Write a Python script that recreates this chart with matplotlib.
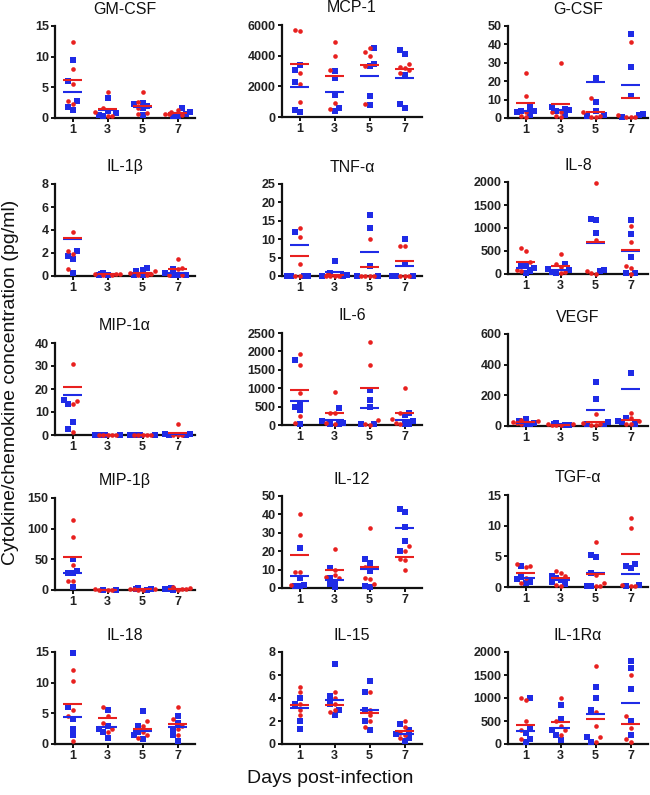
import matplotlib
matplotlib.use('Agg')
import matplotlib.pyplot as plt

days = [1, 3, 5, 7]
red = '#e8201f'
blue = '#1f2be6'

# --- data: points per day (red group / blue group) and the drawn mean lines ---
gmcsf_red = [[12.4, 8.0, 5.5, 2.7, 2.3], [4.3, 1.6, 0.9, 0.4, 0.3], [4.2, 2.6, 1.7, 0.8, 0.7], [1.3, 1.0, 0.7, 0.5, 0.6]]
gmcsf_blue = [[9.5, 6.1, 2.8, 1.8, 1.3], [3.2, 1.2, 0.8, 0.5, 0.3], [2.5, 2.3, 2.0, 1.6, 0.5], [1.6, 0.9, 0.6, 0.4, 0.3]]
gmcsf_red_mean = [6.2, 1.5, 2.0, 0.8]
gmcsf_blue_mean = [4.3, 1.3, 1.8, 0.8]

mcp1_red = [[5700, 5620, 2890, 2160, 970], [4860, 3950, 3070, 930, 520], [4490, 4250, 3950, 3350, 860], [3460, 3250, 3200, 2850, 3050]]
mcp1_blue = [[3370, 3090, 2310, 475, 300], [3020, 2550, 1450, 600, 370], [4530, 3480, 3300, 1360, 780], [4400, 4100, 2760, 820, 560]]
mcp1_red_mean = [3450, 2650, 3400, 3150]
mcp1_blue_mean = [1950, 1620, 2700, 2520]

gcsf_red = [[24.5, 11.7, 3.5, 1.0, 0.5], [30.0, 3.5, 3.0, 1.0, 0.5], [11.0, 3.0, 1.0, 0.5, 0.5], [41.2, 1.8, 0.5, 0.3, 0.3]]
gcsf_blue = [[6.0, 4.0, 3.7, 3.5, 1.5], [5.8, 5.0, 4.5, 4.0, 1.8], [21.9, 8.5, 4.0, 1.4, 1.2], [45.7, 27.5, 11.9, 2.3, 1.6, 0.5]]
gcsf_red_mean = [8.3, 7.4, 3.2, 10.8]
gcsf_blue_mean = [3.8, 4.3, 19.3, 17.8]

il1b_red = [[3.8, 2.2, 1.9, 0.6], [0.2, 0.15, 0.1, 0.1, 0.2], [0.4, 0.3, 0.2, 0.1, 0.1], [1.45, 0.7, 0.6, 0.1, 0.1]]
il1b_blue = [[2.2, 1.7, 1.45, 0.3], [0.3, 0.2, 0.1, 0.05], [0.7, 0.5, 0.4, 0.1, 0.05], [0.6, 0.3, 0.1, 0.05, 0.05]]
il1b_red_mean = [3.3, 0.2, 0.25, 0.65]
il1b_blue_mean = [3.25, 0.15, 0.3, 0.3]

tnfa_red = [[13.1, 10.7, 3.3, 0, 0], [0.7, 0, 0, 0, 0], [10.0, 0, 0, 0, 0], [8.2, 8.2, 0, 0, 0]]
tnfa_blue = [[12.0, 0, 0, 0, 0], [4.15, 0.8, 0.3, 0, 0], [16.6, 13.1, 2.6, 0, 0], [10.0, 3.3, 0, 0, 0]]
tnfa_red_mean = [5.4, 0.3, 2.4, 4.1]
tnfa_blue_mean = [8.3, 1.0, 6.4, 2.7]

il8_red = [[555, 504, 250, 88, 60], [445, 226, 150, 50, 20], [1978, 730, 66, 30, 10], [1051, 700, 168, 124, 10]]
il8_blue = [[182, 180, 130, 60, 30], [226, 100, 80, 50, 30], [1190, 1175, 883, 88, 60], [1168, 876, 372, 30, 20]]
il8_red_mean = [255, 168, 686, 511]
il8_blue_mean = [124, 88, 680, 505]

mip1a_red = [[31.0, 14.9, 13.3, 1.2], [0, 0, 0, 0, 0], [0, 0, 0, 0, 0], [4.9, 0, 0, 0]]
mip1a_blue = [[15.2, 13.5, 5.6, 2.7], [0, 0, 0, 0, 0], [0, 0, 0, 0, 0], [0.5, 0.3, 0, 0]]
mip1a_red_mean = [20.9, 0.1, 0.1, 1.0]
mip1a_blue_mean = [17.2, 0.0, 0.0, 0.3]

il6_red = [[1927, 1618, 882, 255, 64], [900, 336, 330, 50, 30], [2255, 1627, 145, 20, 10], [1009, 336, 150, 60, 30]]
il6_blue = [[1755, 555, 482, 409, 30], [464, 100, 60, 40, 30], [955, 691, 500, 40, 30], [336, 273, 120, 40, 20]]
il6_red_mean = [955, 327, 1000, 327]
il6_blue_mean = [655, 136, 455, 136]

vegf_red = [[39, 30, 25, 20, 15], [12, 10, 8, 5, 5], [80, 20, 10, 5, 5], [86, 50, 30, 15, 10]]
vegf_blue = [[47, 30, 20, 15, 10], [17, 12, 8, 5], [287, 175, 25, 15, 10], [348, 50, 30, 25, 15]]
vegf_red_mean = [26, 8, 26, 41]
vegf_blue_mean = [20, 10, 106, 240]

mip1b_red = [[113.6, 85.7, 40, 15, 15], [1, 0.5, 0.5, 0.3], [2, 1.5, 1, 0.5, 0.5], [4.8, 3, 2, 1, 0.5]]
mip1b_blue = [[49.8, 31.6, 28.4, 27, 5.4], [0.5, 0.3], [3.7, 2, 1, 0.5], [3.5, 2, 1, 0.5]]
mip1b_red_mean = [54.6, 0.5, 1.5, 2.0]
mip1b_blue_mean = [28.4, 0.5, 1.5, 1.8]

il12_red = [[40.4, 28.9, 8.5, 8.5, 1.8], [21.3, 9.9, 6.9, 6.0, 5.5], [32.5, 11.5, 5.4, 5.0, 2.3], [22.6, 20.2, 16.0, 15.3, 9.6]]
il12_blue = [[22.0, 5.4, 1.5, 1.3, 1.2], [11.0, 5.4, 3.5, 2.0, 0.5], [15.5, 13.5, 9.0, 1.0, 0.8], [43.0, 41.2, 33.4, 25.3, 20.2]]
il12_red_mean = [17.7, 9.75, 11.2, 16.8]
il12_blue_mean = [6.5, 4.5, 10.1, 32.7]

tgfa_red = [[3.75, 3.5, 3.2, 1.5, 0.7], [2.6, 2.3, 1.8, 0.4, 0.1], [7.3, 2.0, 0.7, 0.2, 0.1], [11.3, 9.6, 0.4, 0.2, 0.1]]
tgfa_blue = [[3.4, 1.55, 1.3, 0.8, 0.6], [1.8, 1.5, 1.2, 0.8, 0.5], [5.2, 4.9, 2.3, 0.2, 0.1], [3.7, 3.4, 3.1, 0.4, 0.1]]
tgfa_red_mean = [2.25, 1.4, 2.1, 5.3]
tgfa_blue_mean = [1.5, 1.2, 2.3, 2.2]

il18_red = [[12.0, 10.2, 5.5, 4.5, 0.5], [6.0, 4.5, 3.5, 2.5, 2.0], [3.8, 3.0, 2.0, 1.5, 1.0], [6.0, 4.0, 3.0, 2.5, 1.5]]
il18_blue = [[14.8, 6.0, 4.0, 2.5, 1.5], [5.5, 3.0, 2.5, 2.0, 1.0], [5.3, 3.0, 2.0, 1.5, 0.8], [4.5, 3.5, 2.5, 1.5, 0.5]]
il18_red_mean = [6.5, 4.3, 2.4, 3.3]
il18_blue_mean = [4.4, 2.7, 2.1, 2.8]

il15_red = [[5.0, 4.5, 3.5, 3.0, 2.5], [4.5, 4.0, 3.5, 3.0, 2.8], [4.5, 3.0, 2.5, 2.0, 1.5], [2.0, 1.5, 1.0, 0.8, 0.5]]
il15_blue = [[4.0, 3.5, 2.0, 1.3], [7.0, 4.2, 3.5, 3.0, 2.5], [5.5, 4.5, 3.0, 2.0, 1.2], [1.7, 1.2, 0.9, 0.5, 0.3]]
il15_red_mean = [3.4, 3.4, 2.7, 1.1]
il15_blue_mean = [3.1, 3.8, 3.0, 0.9]

il1ra_red = [[1000, 950, 500, 300, 100], [1000, 500, 400, 300, 200], [1700, 700, 400, 150, 50], [1500, 600, 350, 100, 50]]
il1ra_blue = [[1000, 350, 250, 100, 50], [850, 550, 300, 200, 80], [1250, 1000, 750, 150, 50], [1800, 1650, 1200, 500, 200]]
il1ra_red_mean = [420, 480, 540, 430]
il1ra_blue_mean = [280, 350, 650, 900]

titles = ['GM-CSF', 'MCP-1', 'G-CSF',
          'IL-1β', 'TNF-α', 'IL-8',
          'MIP-1α', 'IL-6', 'VEGF',
          'MIP-1β', 'IL-12', 'TGF-α',
          'IL-18', 'IL-15', 'IL-1Rα']
ymaxes = [15, 6000, 50, 8, 25, 2000, 40, 2500, 600, 150, 50, 15, 15, 8, 2000]
ysteps = [5, 2000, 10, 2, 5, 500, 10, 500, 200, 50, 10, 5, 5, 2, 500]

reds = [gmcsf_red, mcp1_red, gcsf_red, il1b_red, tnfa_red, il8_red, mip1a_red, il6_red, vegf_red,
        mip1b_red, il12_red, tgfa_red, il18_red, il15_red, il1ra_red]
blues = [gmcsf_blue, mcp1_blue, gcsf_blue, il1b_blue, tnfa_blue, il8_blue, mip1a_blue, il6_blue, vegf_blue,
         mip1b_blue, il12_blue, tgfa_blue, il18_blue, il15_blue, il1ra_blue]
red_means = [gmcsf_red_mean, mcp1_red_mean, gcsf_red_mean, il1b_red_mean, tnfa_red_mean, il8_red_mean,
             mip1a_red_mean, il6_red_mean, vegf_red_mean, mip1b_red_mean, il12_red_mean, tgfa_red_mean,
             il18_red_mean, il15_red_mean, il1ra_red_mean]
blue_means = [gmcsf_blue_mean, mcp1_blue_mean, gcsf_blue_mean, il1b_blue_mean, tnfa_blue_mean, il8_blue_mean,
              mip1a_blue_mean, il6_blue_mean, vegf_blue_mean, mip1b_blue_mean, il12_blue_mean, tgfa_blue_mean,
              il18_blue_mean, il15_blue_mean, il1ra_blue_mean]

# layout in pixels (figure is 650 x 795)
W, H = 650, 795
col_left = [55, 282, 508]
ax_w = 140
# y pixel of the zero line for each panel
zero_px = [118, 117, 118,
           276, 276, 274,
           435, 425, 426,
           590, 588, 587,
           744, 744, 744]
ax_h = 92


def swarm(vals, ymax, step=0.24, gap=0.055, kmax=3):
    """simple beeswarm: spread points sideways when they sit at similar heights"""
    placed = []
    offs = [0.0] * len(vals)
    for n, i in enumerate(sorted(range(len(vals)), key=lambda k: vals[k])):
        y = vals[i] / ymax
        pos = None
        for k in range(kmax + 1):
            for c in ([0.0] if k == 0 else [-k * step, k * step]):
                if all(abs(c - px) >= step * 0.95 or abs(y - py) >= gap for px, py in placed):
                    pos = c
                    break
            if pos is not None:
                break
        if pos is None:
            pos = ((n % 7) - 3) * step * 0.5
        offs[i] = pos
        placed.append((pos, y))
    return offs


plt.rcParams['font.family'] = ['Liberation Sans', 'DejaVu Sans']
fig = plt.figure(figsize=(W / 100, H / 100), dpi=100)

for p in range(15):
    r, c = divmod(p, 3)
    ax = fig.add_axes([col_left[c] / W, 1 - zero_px[p] / H, ax_w / W, ax_h / H])
    ymax = ymaxes[p]
    for d, day in enumerate(days):
        rv = reds[p][d]
        bv = blues[p][d]
        allv = list(rv) + list(bv)
        offs = swarm(allv, ymax)
        ax.scatter([day + o for o in offs[len(rv):]], bv, s=15, marker='s', color=blue,
                   linewidths=0, zorder=3, clip_on=False)
        ax.scatter([day + o for o in offs[:len(rv)]], rv, s=11, marker='o', color=red,
                   linewidths=0, zorder=4, clip_on=False)
        ax.plot([day - 0.55, day + 0.55], [blue_means[p][d]] * 2, color=blue, lw=1.5,
                zorder=5, solid_capstyle='butt', clip_on=False)
        ax.plot([day - 0.55, day + 0.55], [red_means[p][d]] * 2, color=red, lw=1.5,
                zorder=6, solid_capstyle='butt', clip_on=False)

    ax.set_xlim(0, 8)
    ax.set_ylim(0, ymax)
    ax.set_xticks(days)
    ax.set_yticks(range(0, ymax + 1, ysteps[p]))
    ax.spines['top'].set_visible(False)
    ax.spines['right'].set_visible(False)
    for s in ['left', 'bottom']:
        ax.spines[s].set_linewidth(1.6)
        ax.spines[s].set_color('#111111')
    ax.tick_params(axis='both', direction='out', length=3, width=1.4, color='#111111',
                   labelsize=9, labelcolor='#222222', pad=1.5)
    for lab in ax.get_xticklabels() + ax.get_yticklabels():
        lab.set_fontweight('bold')
    ax.set_title(titles[p], fontsize=11.5, pad=9, color='#111111')

fig.text(0.016, 0.519, 'Cytokine/chemokine concentration (pg/ml)', rotation=90,
         ha='center', va='center', fontsize=14, color='#111111')
fig.text(0.508, 0.021, 'Days post-infection', ha='center', va='center',
         fontsize=14, color='#111111')

fig.savefig('out.png', dpi=100)
